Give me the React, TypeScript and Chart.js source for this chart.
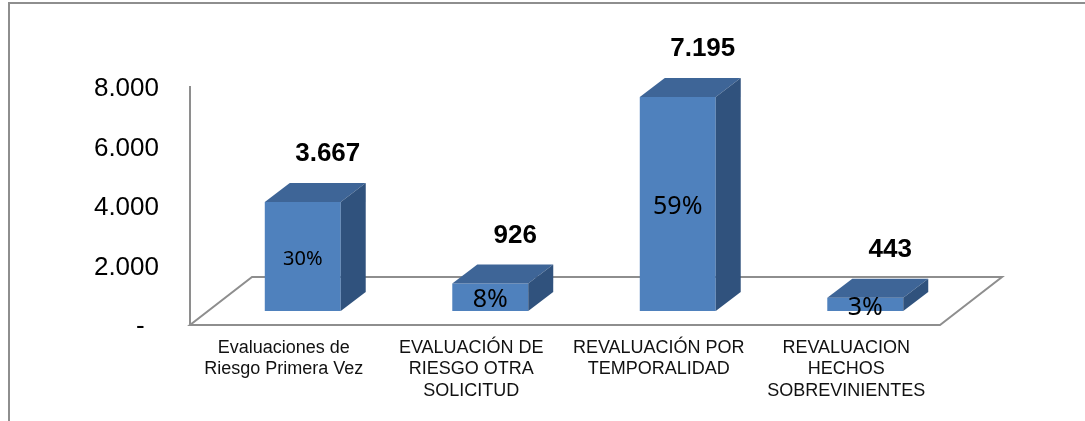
import React, { useEffect, useRef } from "react";
import { Chart, registerables } from "chart.js";

Chart.register(...registerables);

// ---- data ----
const categories: string[][] = [
  ["Evaluaciones de", "Riesgo Primera Vez"],
  ["EVALUACIÓN DE", "RIESGO OTRA", "SOLICITUD"],
  ["REVALUACIÓN POR", "TEMPORALIDAD"],
  ["REVALUACION", "HECHOS", "SOBREVINIENTES"],
];
const values = [3667, 926, 7195, 443];
const valueLabels = ["3.667", "926", "7.195", "443"];
const percentLabels = ["30%", "8%", "59%", "3%"];
const yTickValues = [0, 2000, 4000, 6000, 8000];
const yTickLabels = ["-  ", "2.000", "4.000", "6.000", "8.000"];

// ---- styles / geometry ----
const FRONT_COLOR = "#4F81BD";
const TOP_COLOR = "#3E6597";
const SIDE_COLOR = "#30527D";
const LINE_COLOR = "#8E8E8E";
const FRONT_X = 19;
const FRONT_Y = 14;
const DEPTH_X = 62;
const DEPTH_Y = 48;
const BAR_DX = 25;
const BAR_DY = 19;
const PCT_SIZES = [20, 25, 25, 25];

const threeD = {
  id: "threeD",
  beforeDraw(chart: any) {
    const ctx = chart.ctx;
    ctx.save();
    ctx.strokeStyle = LINE_COLOR;
    ctx.lineWidth = 2;
    ctx.beginPath();
    ctx.moveTo(9, chart.height + 2);
    ctx.lineTo(9, 3);
    ctx.lineTo(chart.width + 2, 3);
    ctx.stroke();
    ctx.restore();
  },
  beforeDatasetsDraw(chart: any) {
    const ctx = chart.ctx;
    const { left, right, top, bottom } = chart.chartArea;
    const fx0 = left - FRONT_X;
    const fx1 = right - FRONT_X;
    const fy = bottom + FRONT_Y;
    ctx.save();
    ctx.strokeStyle = LINE_COLOR;
    ctx.lineWidth = 2;
    ctx.lineJoin = "miter";
    ctx.beginPath();
    ctx.moveTo(fx0, fy);
    ctx.lineTo(fx1, fy);
    ctx.lineTo(fx1 + DEPTH_X, fy - DEPTH_Y);
    ctx.lineTo(fx0 + DEPTH_X, fy - DEPTH_Y);
    ctx.closePath();
    ctx.stroke();
    ctx.beginPath();
    ctx.moveTo(fx0, top + FRONT_Y - 1);
    ctx.lineTo(fx0, fy);
    ctx.stroke();
    ctx.restore();
  },
  afterDatasetsDraw(chart: any) {
    const ctx = chart.ctx;
    const meta = chart.getDatasetMeta(0);
    ctx.save();
    meta.data.forEach((bar: any, i: number) => {
      const x0 = bar.x - bar.width / 2;
      const x1 = bar.x + bar.width / 2;
      const y = bar.y;
      const b = bar.base;
      // top face
      ctx.fillStyle = TOP_COLOR;
      ctx.beginPath();
      ctx.moveTo(x0, y);
      ctx.lineTo(x1, y);
      ctx.lineTo(x1 + BAR_DX, y - BAR_DY);
      ctx.lineTo(x0 + BAR_DX, y - BAR_DY);
      ctx.closePath();
      ctx.fill();
      // side face
      ctx.fillStyle = SIDE_COLOR;
      ctx.beginPath();
      ctx.moveTo(x1, y);
      ctx.lineTo(x1 + BAR_DX, y - BAR_DY);
      ctx.lineTo(x1 + BAR_DX, b - BAR_DY);
      ctx.lineTo(x1, b);
      ctx.closePath();
      ctx.fill();
      // value label
      ctx.fillStyle = "#000";
      ctx.textAlign = "center";
      ctx.textBaseline = "middle";
      ctx.font = "bold 26px 'Liberation Sans', Arial, sans-serif";
      ctx.fillText(valueLabels[i], bar.x + 25, y - 48);
      // percent label
      ctx.font = `${PCT_SIZES[i]}px 'Noto Sans', sans-serif`;
      ctx.fillText(percentLabels[i], bar.x, (y + b) / 2 + 3);
    });
    ctx.restore();
  },
};

export default function App() {
  const canvasRef = useRef<HTMLCanvasElement | null>(null);

  useEffect(() => {
    if (!canvasRef.current) return;
    const chart = new Chart(canvasRef.current, {
      type: "bar",
      data: {
        labels: categories,
        datasets: [
          {
            data: values,
            backgroundColor: FRONT_COLOR,
            borderWidth: 0,
            categoryPercentage: 1,
            barPercentage: 0.405,
          },
        ],
      },
      options: {
        responsive: false,
        animation: false,
        events: [],
        layout: { padding: { left: 0, right: 126, top: 73, bottom: 0 } },
        plugins: {
          legend: { display: false },
          tooltip: { enabled: false },
          title: { display: false },
        },
        scales: {
          x: {
            grid: { display: false, drawTicks: false },
            border: { display: false },
            ticks: {
              color: "#111",
              font: { family: "'Liberation Sans', Arial, sans-serif", size: 18, lineHeight: 1.2 },
              padding: 26,
              labelOffset: -FRONT_X,
              maxRotation: 0,
              minRotation: 0,
              autoSkip: false,
            },
            afterFit: (scale: any) => {
              scale.height = 110;
            },
          },
          y: {
            min: 0,
            max: 8000,
            grid: { display: false, drawTicks: false },
            border: { display: false },
            ticks: {
              stepSize: 2000,
              color: "#000",
              padding: 50,
              labelOffset: FRONT_Y + 2,
              font: { family: "'Liberation Sans', Arial, sans-serif", size: 26 },
              callback: (v: any) => {
                const idx = yTickValues.indexOf(Number(v));
                return idx >= 0 ? yTickLabels[idx] : "";
              },
            },
            afterFit: (scale: any) => {
              scale.width = 209;
            },
          },
        },
      },
      plugins: [threeD],
    });
    return () => chart.destroy();
  }, []);

  return (
    <div style={{ position: "absolute", left: 0, top: 0, width: 1085, height: 421, background: "#fff" }}>
      <canvas ref={canvasRef} width={1085} height={421} style={{ display: "block" }} />
    </div>
  );
}
